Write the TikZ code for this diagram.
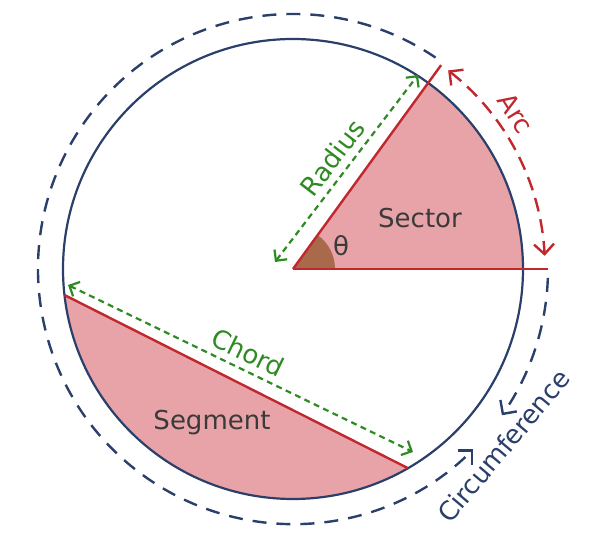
\documentclass[tikz,border=0pt]{standalone}
\usepackage{fontspec}
\setmainfont{DejaVu Sans}
\usetikzlibrary{arrows.meta}
\definecolor{navy}{HTML}{2B3F6B}
\definecolor{redline}{HTML}{C0282D}
\definecolor{pinkfill}{HTML}{E8A3A8}
\definecolor{greenarr}{HTML}{2E8B22}
\definecolor{brownang}{HTML}{A86A4A}
\definecolor{textgrey}{HTML}{3A3A3A}
\begin{document}
\begin{tikzpicture}[x=0.5pt,y=0.5pt,
  lbl/.style={font=\fontsize{13}{15}\selectfont},
  outer/.style={navy, line width=1.2pt, dash pattern=on 7pt off 5pt},
  meas/.style={greenarr, line width=1.1pt, dash pattern=on 3pt off 2.2pt, {Straight Barb[length=4pt]}-{Straight Barb[length=4pt]}},
  edge/.style={redline, line width=1.2pt}]
  \useasboundingbox (-293,-276) rectangle (312,269);
  \coordinate (O) at (0,0);
  % filled regions
  \fill[pinkfill] (O) -- (0:230) arc[start angle=0, end angle=54, radius=230] -- cycle;
  \fill[pinkfill] (186.5:230) arc[start angle=186.5, end angle=300, radius=230] -- cycle;
  \fill[brownang] (O) -- (0:42) arc[start angle=0, end angle=54, radius=42] -- cycle;
  % circle
  \draw[navy, line width=1.1pt] (O) circle[radius=230];
  % edges
  \coordinate (R) at (54:252);
  \coordinate (H) at (0:255);
  \coordinate (C1) at (186.5:230);
  \coordinate (C2) at (300:230);
  \draw[edge] (O) -- (R);
  \draw[edge] (O) -- (H);
  \draw[edge] (C1) -- (C2);
  % measures
  \coordinate (ra) at (-18,7);
  \coordinate (rb) at (125,194);
  \draw[meas] (ra) -- (rb) node[midway, above, sloped, lbl, greenarr] {Radius};
  \coordinate (ca) at (-225,-16);
  \coordinate (cb) at (120,-183);
  \draw[meas] (ca) -- (cb) node[midway, above, sloped, lbl, greenarr] {Chord};
  % arc
  \draw[redline, line width=1.2pt, dash pattern=on 7pt off 4pt, {Straight Barb[length=5pt]}-{Straight Barb[length=5pt]}]
    (52:252) arc[start angle=52, end angle=3, radius=252];
  \node[lbl, redline, rotate=-58] (arc) at (35:272) {Arc};
  % circumference
  \draw[outer, -{Straight Barb[length=5pt]}] (-2:255) arc[start angle=-2, end angle=-35, radius=255];
  \draw[outer, -{Straight Barb[length=5pt]}] (56:255) arc[start angle=56, end angle=315, radius=255];
  \node[lbl, navy, rotate=50] (circ) at (-40:275) {Circumference};
  % texts
  \node[lbl, textgrey] (sector) at (127,51) {Sector};
  \node[lbl, textgrey] (segment) at (-81,-154) {Segment};
  \node[lbl, textgrey] (theta) at (48,23) {θ};
\end{tikzpicture}
\end{document}
